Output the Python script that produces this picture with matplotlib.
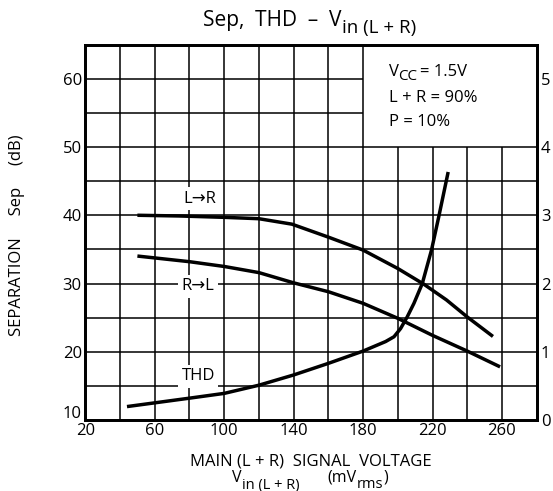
import matplotlib
matplotlib.use("Agg")
import matplotlib.pyplot as plt
from matplotlib.transforms import IdentityTransform

plt.rcParams['font.family'] = ['Open Sans', 'DejaVu Sans']

# ---- data ----
x_lr = [51, 74, 100, 120, 139, 160, 180, 200, 215, 228, 240, 254]
sep_lr = [40.0, 39.9, 39.7, 39.5, 38.7, 36.8, 34.9, 32.2, 29.9, 27.6, 25.1, 22.4]

x_rl = [51, 80, 100, 120, 140, 160, 180, 200, 220, 240, 258]
sep_rl = [34.0, 33.2, 32.5, 31.6, 30.1, 28.8, 27.1, 24.9, 22.4, 20.1, 17.9]

x_thd = [45, 80, 100, 120, 140, 160, 180, 193, 197.8, 201.6, 205.4, 209.3, 214.1, 219.4, 223.6, 228.8]
thd = [0.20, 0.32, 0.39, 0.51, 0.66, 0.83, 1.01, 1.15, 1.22, 1.34, 1.51, 1.71, 2.0, 2.49, 2.98, 3.61]

x_ticks = [20, 60, 100, 140, 180, 220, 260]
y_ticks = [10, 20, 30, 40, 50, 60]
y2_ticks = [0, 1, 2, 3, 4, 5]
curve_labels = ["L→R", "R→L", "THD"]

W, H = 553, 491
fig = plt.figure(figsize=(W / 100, H / 100), dpi=100)
ax = fig.add_axes([85.3 / W, 1 - 420 / H, (536.7 - 85.3) / W, (420 - 44.7) / H])
ax.set_xlim(20, 280)
ax.set_ylim(10, 65)

glw = 1.1
for yv in range(15, 65, 5):
    xe = 180 if yv > 50 else 280
    ax.plot([20, xe], [yv, yv], color='black', lw=glw, zorder=1, solid_capstyle='butt')
for xv in range(40, 280, 20):
    ye = 50 if xv > 180 else 65
    ax.plot([xv, xv], [10, ye], color='black', lw=glw, zorder=1, solid_capstyle='butt')

clw = 2.5
ax.plot(x_lr, sep_lr, color='black', lw=clw, zorder=3, solid_joinstyle='round')
ax.plot(x_rl, sep_rl, color='black', lw=clw, zorder=3, solid_joinstyle='round')

ax.set_xticks(x_ticks)
ax.set_yticks(y_ticks)
# lowest left label is placed by hand so it does not collide with the x labels
ax.set_yticklabels([""] + [str(v) for v in y_ticks[1:]])
ax.tick_params(axis='x', length=0, labelsize=12, pad=2.5)
ax.tick_params(axis='y', length=0, labelsize=12, pad=2.5)
for s in ax.spines.values():
    s.set_linewidth(2.0)

ax2 = ax.twinx()
ax2.set_ylim(0, 5.5)
ax2.set_yticks(y2_ticks)
ax2.tick_params(length=0, labelsize=12, pad=3)
ax2.plot(x_thd, thd, color='black', lw=clw, zorder=3, solid_joinstyle='round')
for s in ax2.spines.values():
    s.set_linewidth(2.0)

bb = dict(facecolor='white', edgecolor='none', pad=2.5)
for t, (xv, yv) in zip(curve_labels, [(86, 42.4), (85, 29.6), (85, 16.4)]):
    ax.text(xv, yv, t, fontsize=12, ha='center', va='center', bbox=bb, zorder=2)

# ---- rich text helper (pixel coords, y measured from top) ----
fig.canvas.draw()
renderer = fig.canvas.get_renderer()


def rich(parts, x, ha='left'):
    """parts: list of (text, fontsize, baseline_y_from_top, gap_before_px)."""
    texts = []
    widths = []
    gaps = []
    for s, fs, yb, g in parts:
        t = fig.text(0, H - yb, s, fontsize=fs, ha='left', va='baseline',
                     transform=IdentityTransform())
        texts.append(t)
        widths.append(t.get_window_extent(renderer).width)
        gaps.append(g)
    total = sum(widths) + sum(gaps[1:])
    x0 = x - total / 2 if ha == 'center' else x
    for i, (t, w) in enumerate(zip(texts, widths)):
        if i > 0:
            x0 += gaps[i]
        t.set_x(x0)
        x0 += w


# lowest left tick label
fig.text(82, H - 418.5, str(y_ticks[0]), fontsize=12, ha='right', va='baseline',
         transform=IdentityTransform())

# title
rich([("Sep,  THD  –  V", 15, 26, 0), ("in (L + R)", 13.5, 33, 0.5)], 310, ha='center')

# conditions box
rich([("V", 12, 75.5, 0), ("CC", 11, 80, -0.5), ("= 1.5V", 12, 75.5, 2.5)], 389)
rich([("L + R = 90%", 12, 101.5, 0)], 389)
rich([("P = 10%", 12, 126, 0)], 389)

# x label
rich([("MAIN (L + R)  SIGNAL  VOLTAGE", 12, 466, 0)], 311, ha='center')
rich([("V", 11.5, 482.5, 0), ("in (L + R)", 10.5, 488.5, 0.3)], 266, ha='center')
rich([("(mV", 11.5, 482, 0), ("rms", 10.5, 487.5, 0.2), (")", 11.5, 482, 0.2)], 358, ha='center')

# y label
fig.text(17 / W, 1 - 235 / H, "SEPARATION     Sep     (dB)", fontsize=12,
         rotation=90, ha='center', va='center')

fig.savefig("out.png", dpi=100)
